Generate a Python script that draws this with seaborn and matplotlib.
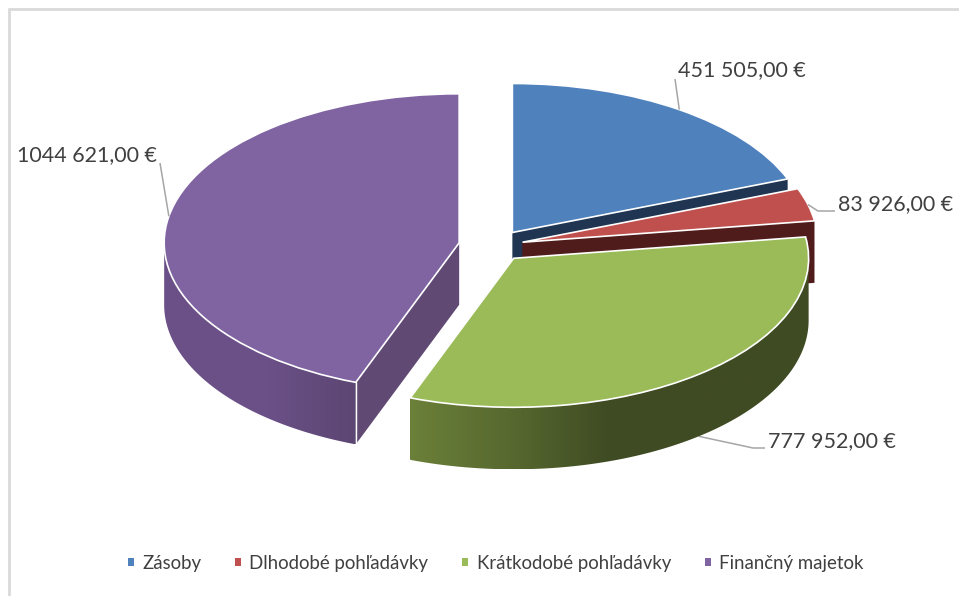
import numpy as np
import matplotlib
matplotlib.use("Agg")
import matplotlib.pyplot as plt
import seaborn as sns
from matplotlib.colors import LinearSegmentedColormap
from matplotlib.lines import Line2D
from matplotlib.path import Path
from matplotlib.patches import PathPatch, Polygon

categories = ["Zásoby", "Dlhodobé pohľadávky", "Krátkodobé pohľadávky", "Finančný majetok"]
values = [451505.00, 83926.00, 777952.00, 1044621.00]
value_labels = ["451 505,00 €", "83 926,00 €", "777 952,00 €", "1044 621,00 €"]
top_colors = ["#4f81bd", "#c0504d", "#9bbb59", "#8064a2"]
cut_colors = ["#1f3552", "#4f1c1b", "#3f4b23", "#604a74"]
side_ramps = [["#1f3552", "#1f3552"], ["#4f1c1b", "#4f1c1b"],
              ["#6b8039", "#57692f", "#3f4b23", "#3f4b23", "#3f4b23"],
              ["#6a5086", "#6c5189", "#5c4672"]]
explode = [0.11, 0.10, 0.106, 0.12]
draw_order = [0, 1, 3, 2]
label_xy = [(678, 70), (838, 204), (768, 441), (157, 155)]
label_ha = ["left", "left", "left", "right"]
elbow = [None, (818, 211), (753, 448), None]
leader_end = [(675, 79), (835, 211), (765, 448), (160, 163)]
leader_depth = [0, 0, 1, 0]

W, H = 959, 596
YS = 295 / 149      # data units per pixel vertically: turns the round pie into the tilted ellipse
DEPTH = 62 * YS
RADIUS = 295
CENTER = (494, (H - 246) * YS)

sns.set_theme(style="white")
plt.rcParams["font.family"] = ["Lato", "DejaVu Sans"]
GREY = "#404040"


def py(p):
    return (H - p) * YS


fig = plt.figure(figsize=(W / 100, H / 100), dpi=100, facecolor="white")
ax = fig.add_axes([0, 0, 1, 1])
wedges, _ = ax.pie(values, explode=[e * RADIUS for e in explode], center=CENTER, radius=RADIUS,
                   colors=top_colors, startangle=90, counterclock=False,
                   wedgeprops=dict(edgecolor="white", linewidth=1.2))
ax.set_aspect("auto")
ax.set_xlim(0, W)
ax.set_ylim(0, H * YS)
ax.axis("off")


def pt(w, deg, drop=0.0):
    a = np.radians(deg)
    return (w.center[0] + w.r * np.cos(a), w.center[1] + w.r * np.sin(a) - drop)


for i in draw_order:
    w = wedges[i]
    t1, t2 = w.theta1, w.theta2
    z = 10 + draw_order.index(i) * 10
    apex = w.center
    apex_d = (apex[0], apex[1] - DEPTH)
    # flat cut faces
    for t in (t1, t2):
        ax.add_patch(Polygon([apex, pt(w, t), pt(w, t, DEPTH), apex_d], closed=True,
                             fc=cut_colors[i], ec="none", zorder=z))
    # outer wall with gradient
    angs = np.linspace(t1, t2, 400)
    angs = angs[np.sin(np.radians(angs)) <= 0.0]
    if angs.size > 1:
        upper = [pt(w, a) for a in angs]
        lower = [pt(w, a, DEPTH) for a in angs[::-1]]
        verts = upper + lower + [upper[0]]
        codes = [Path.MOVETO] + [Path.LINETO] * (len(verts) - 2) + [Path.CLOSEPOLY]
        clip = PathPatch(Path(verts, codes), fc="none", ec="none", transform=ax.transData)
        ax.add_patch(clip)
        xs = [v[0] for v in verts]
        ys = [v[1] for v in verts]
        cmap = LinearSegmentedColormap.from_list(f"side{i}", side_ramps[i])
        im = ax.imshow(np.linspace(0, 1, 256)[None, :], cmap=cmap, aspect="auto",
                       extent=(min(xs), max(xs), min(ys), max(ys)), zorder=z + 1)
        im.set_clip_path(clip)
    # white seam down the front corner of the largest slice
    if i == 3:
        for t in (t1, t2):
            if np.sin(np.radians(t)) < 0:
                p0, p1 = pt(w, t), pt(w, t, DEPTH)
                ax.plot([p0[0], p1[0]], [p0[1], p1[1]], color="white", lw=1.0, zorder=z + 2)
    w.set_zorder(z + 3)

ax.set_xlim(0, W)
ax.set_ylim(0, H * YS)

# data labels and leader lines, anchored on the arc at each slice's mid-angle
for i, w in enumerate(wedges):
    mid = 0.5 * (w.theta1 + w.theta2)
    start = pt(w, mid, DEPTH * leader_depth[i])
    pts = [start]
    if elbow[i] is not None:
        pts.append((elbow[i][0], py(elbow[i][1])))
    pts.append((leader_end[i][0], py(leader_end[i][1])))
    ax.plot(*zip(*pts), color="#a6a6a6", lw=1.1, zorder=5 if leader_depth[i] else 60,
            solid_capstyle="butt")
    ax.text(label_xy[i][0], py(label_xy[i][1]), value_labels[i], ha=label_ha[i], va="center",
            fontsize=15.5, color=GREY, zorder=70)

leg = ax.legend(wedges, categories, loc="center", bbox_to_anchor=(495.5 / W, 1 - 563 / H),
                ncol=4, frameon=False, fontsize=13.4, labelcolor=GREY,
                handlelength=0.33, handleheight=0.33, handletextpad=0.45,
                columnspacing=1.81, borderpad=0)
for h in leg.get_patches():
    h.set_edgecolor("none")

# chart-area border: only the top and left edges fall inside the crop
fig.add_artist(Line2D([8.5 / W, 8.5 / W], [0, 1 - 9 / H], color="#d9d9d9", lw=2))
fig.add_artist(Line2D([8.5 / W, 1], [1 - 9 / H, 1 - 9 / H], color="#d9d9d9", lw=2))

fig.savefig("out.png", dpi=100)
